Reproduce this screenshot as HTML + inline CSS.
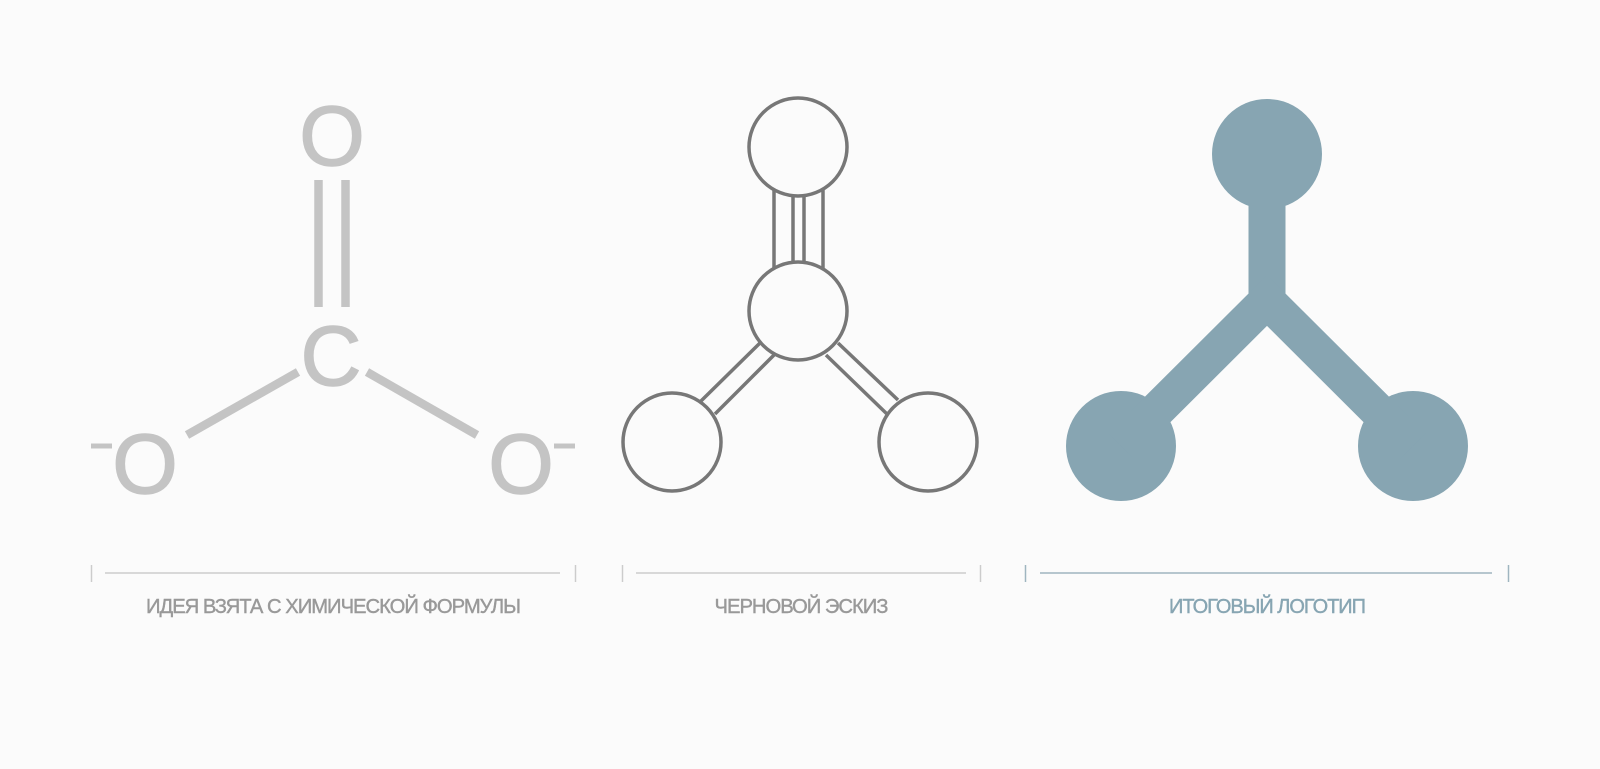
<!DOCTYPE html>
<html><head><meta charset="utf-8"><style>
html,body{margin:0;padding:0;background:#fbfbfb;}
svg{display:block;}
text{font-family:"Liberation Sans",sans-serif;}
</style></head><body>
<svg width="1600" height="769" viewBox="0 0 1600 769" xmlns="http://www.w3.org/2000/svg">
<rect width="1600" height="769" fill="#fbfbfb"/>
<g fill="#c4c4c4" stroke="#c4c4c4" stroke-width="1.5" font-size="84" text-anchor="middle">
<text x="332" y="165">O</text>
<text x="331" y="385">C</text>
<text x="145" y="493">O</text>
<text x="521" y="493">O</text>
</g>
<g stroke="#c4c4c4" stroke-width="8.5">
<line x1="318.5" y1="180" x2="318.5" y2="307"/>
<line x1="345.5" y1="180" x2="345.5" y2="307"/>
<line x1="187" y1="435" x2="298" y2="372"/>
<line x1="367" y1="372" x2="477" y2="435"/>
<line x1="91" y1="446" x2="112" y2="446" stroke-width="5"/>
<line x1="554" y1="446" x2="575" y2="446" stroke-width="5"/>
</g>
<g stroke="#777" stroke-width="3.5" fill="none">
<line x1="774" y1="190" x2="774" y2="268"/>
<line x1="793" y1="195" x2="793" y2="262"/>
<line x1="804" y1="195" x2="804" y2="262"/>
<line x1="823" y1="190" x2="823" y2="268"/>
<line x1="701" y1="401" x2="760" y2="343"/>
<line x1="715" y1="414" x2="774" y2="355"/>
<line x1="838" y1="343" x2="898" y2="400"/>
<line x1="826" y1="355" x2="887" y2="414"/>
<circle cx="798" cy="147" r="49" fill="#fbfbfb"/>
<circle cx="798" cy="311" r="49" fill="#fbfbfb"/>
<circle cx="672" cy="442" r="49" fill="#fbfbfb"/>
<circle cx="928" cy="442" r="49" fill="#fbfbfb"/>
</g>
<g fill="#87a5b2">
<circle cx="1267" cy="154" r="55"/>
<circle cx="1121" cy="446" r="55"/>
<circle cx="1413" cy="446" r="55"/>
<rect x="1248.5" y="150" width="37" height="155"/>
<polyline points="1121,446 1267,300.5 1413,446" fill="none" stroke="#87a5b2" stroke-width="36" stroke-linejoin="miter"/>
</g>
<g stroke="#cccccc" stroke-width="1.5">
<line x1="91.5" y1="565" x2="91.5" y2="582"/>
<line x1="575.5" y1="565" x2="575.5" y2="582"/>
<line x1="105" y1="573" x2="560" y2="573"/>
<line x1="622.5" y1="565" x2="622.5" y2="582"/>
<line x1="980.5" y1="565" x2="980.5" y2="582"/>
<line x1="636" y1="573" x2="966" y2="573"/>
</g>
<g stroke="#9fb5c0" stroke-width="1.5">
<line x1="1025.5" y1="565" x2="1025.5" y2="582"/>
<line x1="1508.5" y1="565" x2="1508.5" y2="582"/>
<line x1="1040" y1="573" x2="1492" y2="573"/>
</g>
<g font-size="20" text-anchor="middle" letter-spacing="-1" stroke-width="0.4">
<text x="333" y="613" fill="#999" stroke="#999" textLength="374" lengthAdjust="spacingAndGlyphs">ИДЕЯ ВЗЯТА С ХИМИЧЕСКОЙ ФОРМУЛЫ</text>
<text x="801" y="613" fill="#999" stroke="#999" textLength="173" lengthAdjust="spacingAndGlyphs">ЧЕРНОВОЙ ЭСКИЗ</text>
<text x="1267" y="613" fill="#87a5b2" stroke="#87a5b2" textLength="196" lengthAdjust="spacingAndGlyphs">ИТОГОВЫЙ ЛОГОТИП</text>
</g>
</svg>
</body></html>
